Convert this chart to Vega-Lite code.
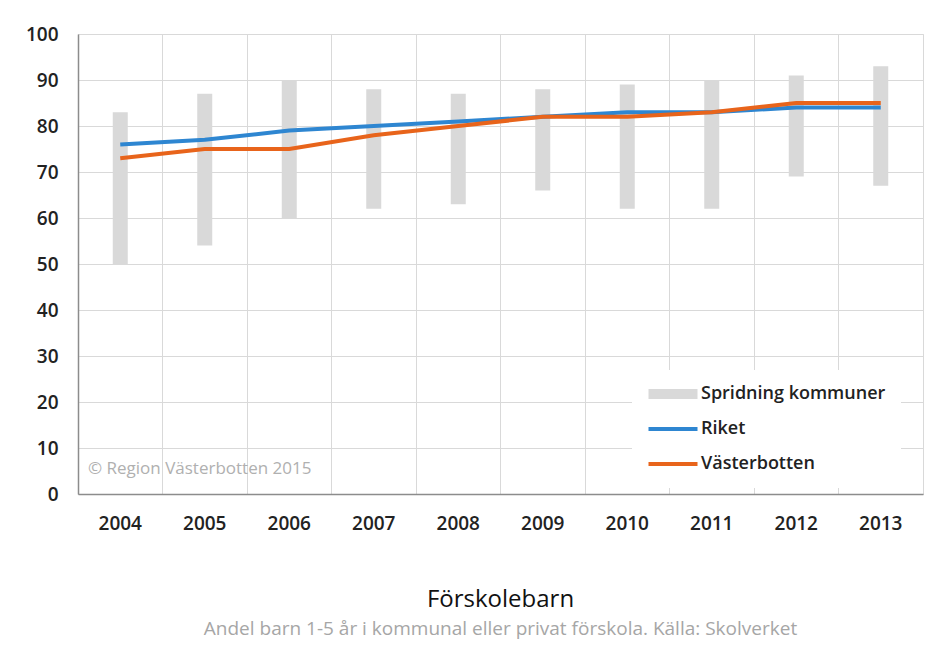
{
  "$schema": "https://vega.github.io/schema/vega-lite/v6.json",
  "autosize": {"type": "none"},
  "width": 845,
  "height": 460,
  "padding": {"left": 78, "top": 34, "right": 15, "bottom": 174},
  "background": "white",
  "datasets": {
    "spread": [
      {"year": "2004", "serie": "Spridning kommuner", "min": 50, "max": 83},
      {"year": "2005", "serie": "Spridning kommuner", "min": 54, "max": 87},
      {"year": "2006", "serie": "Spridning kommuner", "min": 60, "max": 90},
      {"year": "2007", "serie": "Spridning kommuner", "min": 62, "max": 88},
      {"year": "2008", "serie": "Spridning kommuner", "min": 63, "max": 87},
      {"year": "2009", "serie": "Spridning kommuner", "min": 66, "max": 88},
      {"year": "2010", "serie": "Spridning kommuner", "min": 62, "max": 89},
      {"year": "2011", "serie": "Spridning kommuner", "min": 62, "max": 90},
      {"year": "2012", "serie": "Spridning kommuner", "min": 69, "max": 91},
      {"year": "2013", "serie": "Spridning kommuner", "min": 67, "max": 93}
    ],
    "lines": [
      {"year": "2004", "serie": "Riket", "value": 76},
      {"year": "2005", "serie": "Riket", "value": 77},
      {"year": "2006", "serie": "Riket", "value": 79},
      {"year": "2007", "serie": "Riket", "value": 80},
      {"year": "2008", "serie": "Riket", "value": 81},
      {"year": "2009", "serie": "Riket", "value": 82},
      {"year": "2010", "serie": "Riket", "value": 83},
      {"year": "2011", "serie": "Riket", "value": 83},
      {"year": "2012", "serie": "Riket", "value": 84},
      {"year": "2013", "serie": "Riket", "value": 84},
      {"year": "2004", "serie": "Västerbotten", "value": 73},
      {"year": "2005", "serie": "Västerbotten", "value": 75},
      {"year": "2006", "serie": "Västerbotten", "value": 75},
      {"year": "2007", "serie": "Västerbotten", "value": 78},
      {"year": "2008", "serie": "Västerbotten", "value": 80},
      {"year": "2009", "serie": "Västerbotten", "value": 82},
      {"year": "2010", "serie": "Västerbotten", "value": 82},
      {"year": "2011", "serie": "Västerbotten", "value": 83},
      {"year": "2012", "serie": "Västerbotten", "value": 85},
      {"year": "2013", "serie": "Västerbotten", "value": 85}
    ],
    "note": [
      {"year": "2004", "pos": 5.5, "note": "© Region Västerbotten 2015"}
    ]
  },
  "title": {
    "text": "Förskolebarn",
    "subtitle": "Andel barn 1-5 år i kommunal eller privat förskola. Källa: Skolverket",
    "orient": "bottom",
    "anchor": "middle",
    "offset": 55,
    "font": "Open Sans",
    "fontSize": 24,
    "fontWeight": "normal",
    "color": "#111",
    "subtitleFont": "Open Sans",
    "subtitleFontSize": 19,
    "subtitleColor": "#a6a6a6",
    "subtitlePadding": 8
  },
  "config": {
    "view": {"stroke": "#d9d9d9"},
    "font": "Open Sans",
    "axis": {
      "labelFont": "Open Sans",
      "labelFontSize": 19,
      "labelFontWeight": 600,
      "labelColor": "#222",
      "gridColor": "#d9d9d9",
      "gridWidth": 1,
      "domainColor": "#8c8c8c",
      "domainWidth": 1.5,
      "ticks": false,
      "title": null
    }
  },
  "layer": [
    {
      "data": {"name": "spread"},
      "mark": {"type": "bar", "width": 15, "color": "#d9d9d9"},
      "encoding": {
        "x": {
          "field": "year", "type": "ordinal",
          "scale": {"paddingInner": 0, "paddingOuter": 0},
          "axis": {"orient": "top", "grid": true, "bandPosition": 0, "labels": false, "domain": false, "ticks": false}
        },
        "y": {
          "field": "min", "type": "quantitative",
          "scale": {"domain": [0, 100], "nice": false},
          "axis": {"grid": true, "values": [0,10,20,30,40,50,60,70,80,90,100], "labelPadding": 20, "domain": true}
        },
        "y2": {"field": "max"},
        "color": {
          "field": "serie", "type": "nominal",
          "scale": {"domain": ["Spridning kommuner", "Riket", "Västerbotten"], "range": ["#d9d9d9", "#2e86d1", "#e8641b"]},
          "legend": {
            "orient": "none",
            "legendX": 554,
            "legendY": 336,
            "title": null,
            "fillColor": "white",
            "padding": 15,
            "gridAlign": "all",
            "symbolType": "stroke",
            "symbolSize": 2401,
            "symbolOffset": 17,
            "symbolStrokeWidth": 4,
            "labelFont": "Open Sans",
            "labelFontSize": 18,
            "labelFontWeight": 600,
            "labelColor": "#222",
            "labelOffset": 19,
            "labelLimit": 400,
            "rowPadding": 6,
            "encode": {
              "symbols": {
                "update": {
                  "stroke": {"scale": "color", "field": "value"},
                  "strokeWidth": {"signal": "datum.value === 'Spridning kommuner' ? 10 : 4"}
                }
              }
            }
          }
        }
      }
    },
    {
      "data": {"name": "lines"},
      "mark": {"type": "line", "strokeWidth": 4},
      "encoding": {
        "x": {
          "field": "year", "type": "ordinal",
          "axis": {"orient": "bottom", "grid": false, "labelPadding": 20, "domain": true, "labelAngle": 0}
        },
        "y": {
          "field": "value", "type": "quantitative",
          "axis": {"grid": true, "values": [0,10,20,30,40,50,60,70,80,90,100], "labelPadding": 20, "domain": true}
        },
        "color": {"field": "serie", "type": "nominal"}
      }
    },
    {
      "data": {"name": "note"},
      "mark": {"type": "text", "align": "left", "baseline": "middle", "dx": 10, "fontSize": 17, "color": "#b0b0b0", "font": "Open Sans"},
      "encoding": {
        "x": {"field": "year", "type": "ordinal", "bandPosition": 0, "axis": null},
        "y": {"field": "pos", "type": "quantitative"},
        "text": {"field": "note"}
      }
    }
  ],
  "resolve": {"axis": {"x": "independent"}}
}
